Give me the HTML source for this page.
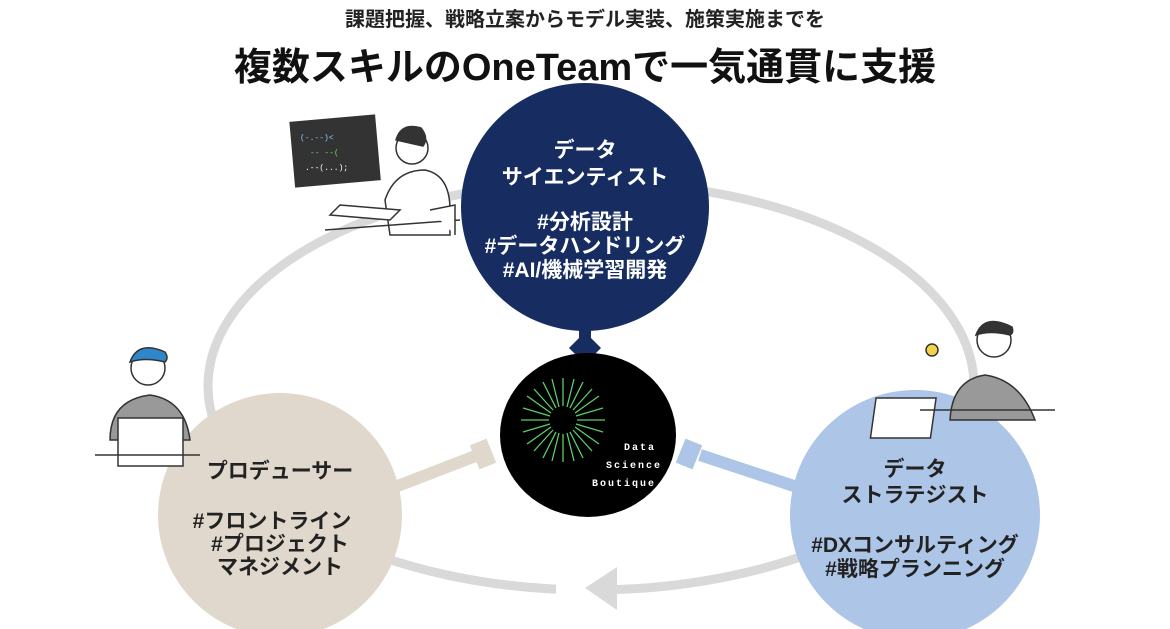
<!DOCTYPE html>
<html><head><meta charset="utf-8"><style>
body{margin:0;width:1170px;height:629px;background:#fff;overflow:hidden;font-family:"Liberation Sans","Noto Sans CJK JP",sans-serif;}
svg{position:absolute;left:0;top:0}
.t{font-family:"Liberation Sans","Noto Sans CJK JP",sans-serif;font-weight:700}
</style></head><body>
<svg width="1170" height="629" viewBox="0 0 1170 629">
<text x="585" y="26" text-anchor="middle" class="t" font-size="20" fill="#222">課題把握、戦略立案からモデル実装、施策実施までを</text>
<text x="585" y="80" text-anchor="middle" class="t" font-size="38" fill="#111">複数スキルのOneTeamで一気通貫に支援</text>
<!-- ring -->
<ellipse cx="591" cy="386" rx="383" ry="204" fill="none" stroke="#d9d9d9" stroke-width="9"/>
<rect x="556" y="575" width="58" height="30" fill="#fff"/>
<polygon points="585,588 617,567 617,610" fill="#d9d9d9"/>
<!-- connectors -->
<rect x="579" y="320" width="12" height="20" fill="#172d62"/>
<polygon points="585,332 601,348 585,364 569,348" fill="#172d62"/>
<line x1="395" y1="487" x2="478" y2="455" stroke="#e0d8cc" stroke-width="12"/>
<rect x="474" y="441" width="18" height="26" fill="#e0d8cc" transform="rotate(-22 483 454)"/>
<line x1="800" y1="488" x2="700" y2="455" stroke="#adc5e6" stroke-width="12"/>
<rect x="680" y="441" width="18" height="26" fill="#adc5e6" transform="rotate(22 689 454)"/>
<!-- circles -->
<circle cx="585" cy="207" r="124" fill="#172d62"/>
<circle cx="280" cy="515" r="122" fill="#e0d8cc"/>
<circle cx="915" cy="515" r="125" fill="#adc5e6"/>
<ellipse cx="588" cy="435" rx="88" ry="82" fill="#000"/>
<g stroke="#5ccf6a" stroke-width="1.3">
<g transform="translate(563,420)">
<line x1="0" y1="-14" x2="0" y2="-42"/><line x1="7" y1="-12" x2="20" y2="-38"/><line x1="12" y1="-7" x2="36" y2="-24"/><line x1="14" y1="0" x2="42" y2="0"/><line x1="12" y1="7" x2="36" y2="24"/><line x1="7" y1="12" x2="20" y2="38"/><line x1="0" y1="14" x2="0" y2="42"/><line x1="-7" y1="12" x2="-20" y2="38"/><line x1="-12" y1="7" x2="-36" y2="24"/><line x1="-14" y1="0" x2="-42" y2="0"/><line x1="-12" y1="-7" x2="-36" y2="-24"/><line x1="-7" y1="-12" x2="-20" y2="-38"/>
<line x1="4" y1="-13" x2="11" y2="-41"/><line x1="10" y1="-10" x2="29" y2="-31"/><line x1="13" y1="-4" x2="40" y2="-12"/><line x1="13" y1="4" x2="40" y2="12"/><line x1="10" y1="10" x2="29" y2="31"/><line x1="4" y1="13" x2="11" y2="41"/><line x1="-4" y1="13" x2="-11" y2="41"/><line x1="-10" y1="10" x2="-29" y2="31"/><line x1="-13" y1="4" x2="-40" y2="12"/><line x1="-13" y1="-4" x2="-40" y2="-12"/><line x1="-10" y1="-10" x2="-29" y2="-31"/><line x1="-4" y1="-13" x2="-11" y2="-41"/>
</g></g>
<g font-family="Liberation Mono,monospace" font-size="10" fill="#fff" font-weight="700" letter-spacing="2">
<text x="624" y="450">Data</text><text x="606" y="468">Science</text><text x="592" y="486">Boutique</text></g>
<g class="t" fill="#fff" font-size="21" text-anchor="middle">
<text x="585" y="157">データ</text><text x="585" y="184">サイエンティスト</text>
<text x="585" y="229">#分析設計</text><text x="585" y="253">#データハンドリング</text><text x="585" y="277">#AI/機械学習開発</text></g>
<g class="t" fill="#222" font-size="21" text-anchor="middle">
<text x="280" y="478">プロデューサー</text>
<text x="272" y="528">#フロントライン</text><text x="280" y="551">#プロジェクト</text><text x="280" y="574">マネジメント</text>
<text x="915" y="476">データ</text><text x="915" y="502">ストラテジスト</text>
<text x="915" y="552">#DXコンサルティング</text><text x="915" y="576">#戦略プランニング</text></g>
<!-- illustrations (simplified) -->
<g transform="rotate(-5 335 150)"><rect x="292" y="118" width="86" height="66" fill="#333"/></g>
<g stroke="#333" stroke-width="1.5" fill="#fff">
<path d="M385 200 q10 -30 40 -30 q25 5 25 40 l0 25 l-60 0z"/>
<circle cx="412" cy="148" r="16"/><path d="M396 140 q5 -18 25 -12 q8 10 2 18z" fill="#333"/>
<path d="M340 205 l60 5 l-10 10 l-60 -5z"/><line x1="325" y1="230" x2="460" y2="220"/>
<path d="M430 210 l25 -5 l0 30"/>
<path d="M110 440 q0 -40 40 -45 q35 5 40 45z" fill="#999"/>
<circle cx="148" cy="368" r="17"/><path d="M130 362 q8 -22 35 -10 q4 6 0 10 q-20 -5 -35 0z" fill="#2f86c9"/>
<rect x="118" y="418" width="65" height="48" fill="#fff"/><line x1="95" y1="455" x2="200" y2="455"/>
<path d="M950 420 q2 -40 35 -45 q35 5 50 45z" fill="#999"/>
<circle cx="994" cy="340" r="17"/><path d="M976 335 q8 -22 36 -8 q2 6 -2 8 q-20 -5 -34 0z" fill="#333"/>
<rect x="932" y="398" width="60" height="40" fill="#fff" transform="skewX(-8)"/><line x1="920" y1="410" x2="1055" y2="410"/>
<circle cx="932" cy="350" r="6" fill="#f3d34a"/>
</g>
<g font-family="Liberation Mono,monospace" font-size="8" fill="#8cf">
<text x="300" y="140">(-.--)&lt;</text><text x="310" y="155" fill="#6d6">-- --(</text><text x="305" y="170" fill="#fff">.--(...);</text></g>
</svg>
</body></html>
